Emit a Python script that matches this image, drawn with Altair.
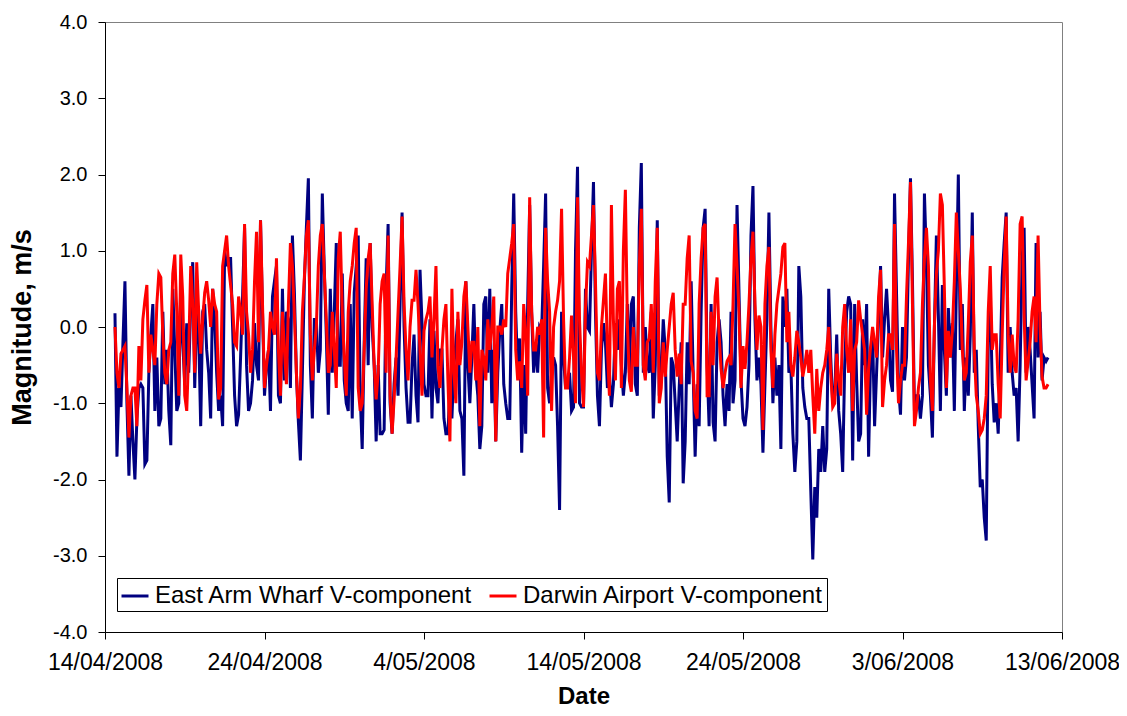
import altair as alt
import pandas as pd

# ---- data: 3-hourly samples (m/s) ----
east_arm = [
    0.18, -1.7, -0.8, -1.05, -0.2, 0.6, -1.0, -1.95, -0.9, -1.5,
    -2.0, -1.2, -0.8, -0.75, -0.8, -1.8, -1.75, -0.6, -0.1, 0.3,
    -1.1, -0.4, -1.3, -1.2, 0.2, -0.75, -0.3, -1.1, -1.55, 0.5,
    -0.3, -1.1, -1.0, 0.6, -0.2, -0.75, 0.05, -0.6, 0.3, 0.85,
    -0.8, 0.2, -0.1, -1.3, 0.2, 0.3, -0.3, -0.6,
    -1.2, 0.5, 0.1, -0.6, -1.1, -0.9, -1.3, 1.0, 0.8, 0.9,
    0.9, 0.0, -0.9, -1.3, -1.15, -0.4, 0.4, 1.3, -0.5, -1.1,
    -1.0, -0.7, 0.05, -0.5, -0.7, 1.4, 0.2, -0.9, -0.5, -0.3,
    -1.1, 0.4, 0.6, 0.8, -0.9, -1.0, 0.5, -0.7, 0.2, 0.1,
    -0.8, 1.2, 0.45, -0.6, -1.25, -1.75, -0.6, 0.6, 1.3, 1.95,
    -0.5, -1.2,
    0.1, 0.1, -0.6, -0.3, 1.75, 0.75, -0.1, -1.15, 0.5, -0.6,
    0.2, 1.1, -0.5, -0.5, 0.7, -0.7, -1.0, -1.1, 0.3, -1.2,
    0.45, 0.8, 1.2, -0.9, -1.6, -0.2, 0.9, -0.5, 1.1, 0.0,
    -0.5, -1.5, -0.5, -1.4, -1.4, -1.35, 0.5, 1.35, -1.0, -1.4,
    -0.75, -0.4, -0.9, 0.3, 1.5, 0.0, -0.8, -1.25, -1.25, -0.5,
    -0.1, -0.9, -1.25,
    0.75, 0.05, -0.75, -0.9, -0.9, 0.1, -1.2, -0.05, -0.8, -1.0,
    -0.3, -0.3, -1.2, -1.4, -1.4, -0.8, -1.2, -0.5, -0.2, 0.1,
    -1.1, -1.2, -1.95, 0.6, -0.5, -1.0, -0.4, 0.3, -0.6, -0.9,
    -1.6, -1.3, 0.3, 0.4, -0.6, 0.5, -1.0, -0.3, -1.5, -0.6,
    -0.05, 0.3, -0.75, -1.0, -1.2, -1.2, 0.5, 1.75, 0.2, -0.6,
    -0.15, -1.65,
    -0.5, -1.4, 0.3, 1.6, 0.2, -0.6, -0.2, -0.6, 0.0, -0.05,
    0.8, 1.75, -0.8, -1.0, -0.6, -0.4, -0.5, -1.3, -2.4, 0.2,
    -0.4, -0.8, -0.7, -0.6, -1.1, -1.05, 1.0, 2.1, -1.0, -1.05,
    -1.05, 0.5, 0.0, -0.05, 1.0, 1.9, 0.2, -0.9, -1.3, -0.3,
    0.05, -0.2, -0.8, -0.6, -1.05, -0.75, 0.05, -0.3, 0.1, -0.5,
    -0.9, -0.6,
    0.3, -0.6, 0.3, 0.4, -0.75, -0.9, 1.3, 2.15, -0.6, 0.0,
    -0.5, -0.6, 0.2, -1.2, -0.5, 1.4, -0.9, -0.6, 0.1, -0.3,
    -1.7, -2.3, -0.4, -0.5, -1.0, -1.5, -0.8, -0.2, -2.05, -1.5,
    -0.2, -0.75, 0.6, -0.6, -1.7, -0.75, -1.3, 0.2, 1.3, 1.55,
    -0.5, -1.3, 0.3, -1.25, -1.5, -0.2, 0.1, -0.2, -0.9, -1.3,
    -0.75, -1.1,
    0.2, -1.0, -0.7, 1.6, 0.45, -0.7, -1.2, -1.3, -1.05, -0.5,
    1.2, 1.85, 0.1, -0.7, -0.4, -0.75, -1.65, -0.75, 0.1, 1.5,
    0.0, -1.0, -0.4, -0.9, -0.5, -1.6, 0.4, 0.0, 0.5, -0.6,
    -0.5, -1.4, -1.9, -1.5, 0.8, 0.4, -0.8, -1.05, -1.2, -1.2,
    -2.15, -3.05, -2.1, -2.5, -1.6, -1.9, -1.3, -1.9, -1.6, 0.5,
    -0.4, -1.0, -0.9, -0.1,
    -1.1, -1.4, -1.9, -0.5, 0.2, 0.4, 0.3, -1.75, 0.3, -0.7,
    -1.5, -1.4, 0.1, -0.5, 0.3, -1.7, -0.4, -0.1, -1.3, -0.6,
    0.1, 0.8, -0.4, 0.1, 0.5, 0.0, -0.7, -0.85, 1.75, 0.45,
    -0.8, -1.15, 0.0, -0.7, -0.4, 0.9, 1.95, 0.6, -1.1, -0.9,
    -0.9, -1.2, -0.9, 1.75, 0.9, -0.5, -0.9, -1.45, 0.0, 1.2,
    0.15, -1.1,
    0.55, -0.3, -0.9, 0.25, -0.4, 0.05, -1.1, 0.5, 2.0, -0.3,
    0.3, -1.1, -0.4, -0.9, -0.1, 1.5, -0.6, -0.3, -1.3, -2.1,
    -2.0, -2.5, -2.8, -0.2, 0.45, -0.75, -1.25, -1.0, -1.4, -0.5,
    0.65, 1.1, 1.5, -0.6, 0.0, -0.6, -0.9, -0.8, -1.5, -0.5,
    0.9, 1.3, -0.6, 0.0, -0.3, -0.75, -1.2, 1.1, -0.4, 0.2,
    -0.7, -0.4, -0.45, -0.4,
]
darwin = [
    0.0, -0.6, -0.8, -0.35, -0.3, -0.25, -0.8, -1.45, -0.9, -0.8,
    -0.8, -1.3, -0.25, -0.7, 0.1, 0.35, 0.55, -0.6, -0.1, -0.3,
    -0.5, 0.3, 0.7, 0.65, -0.1, -0.6, -0.75, -0.3, -0.2, 0.7,
    0.95, 0.2, -0.9, 0.95, 0.4, -0.9, -1.1, -0.3, 0.8, 0.3,
    -0.6, 0.85, 0.2, -0.35, 0.1, 0.45, 0.6, 0.35,
    0.0, 0.5, 0.3, 0.2, -0.95, -0.8, 0.8, 1.0, 1.2, 0.8,
    0.55, 0.3, -0.2, -0.25, 0.4, 0.2, -0.1, 1.35, 0.2, -0.1,
    -0.6, -0.3, 0.6, 1.25, -0.2, 1.4, 0.3, -0.8, -0.5, -0.3,
    0.2, 0.0, -0.1, 0.9, -0.3, -0.9, 0.2, -0.3, -0.75, 0.3,
    1.1, 0.8, 0.15, -0.6, -1.2, -0.8, 0.2, 0.65, 1.2, 1.4,
    -0.1, -0.7,
    -0.3, 0.0, 0.8, 1.2, 1.35, 0.7, 0.1, -0.6, -0.5, 0.2,
    -0.3, -0.8, 0.9, 1.25, 0.2, -0.4, -0.9, 0.2, 0.6, 0.8,
    1.1, 1.3, -0.8, -1.1, -1.0, -0.3, 0.5, 0.9, 1.1, 0.3,
    -0.5, -0.95, -0.6, 0.3, 0.6, 0.7, -0.6, 1.2, -0.9, -1.4,
    -0.95, -0.4, 0.2, 0.8, 1.45, 0.3, -0.3, -0.7, 0.0, 0.35,
    0.35, 0.75, 0.3,
    -0.3, -0.9, -0.05, 0.1, 0.2, 0.4, -0.4, 0.1, 0.8, -0.5,
    -0.8, -0.3, 0.1, 0.3, -0.7, -1.5, 0.5, -0.6, -1.0, 0.2,
    -0.5, -0.2, 0.4, 0.6, 0.0, -0.6, -0.2, -0.2, -0.7, 0.0,
    -1.3, -0.3, -0.4, -0.7, 0.1, -0.3, 0.0, 0.4, -1.5, 0.0,
    0.0, -0.1, 0.1, 0.0, 0.7, 0.9, 1.1, 1.35, -0.3, -0.7,
    -0.45, -0.8,
    0.3, -0.1, -0.9, 1.7, 0.2, -0.3, -0.3, 0.0, -0.1, 0.1,
    -1.45, 1.3, 0.6, 0.2, -1.1, 0.0, 0.2, 0.35, 0.6, 1.55,
    0.1, -0.8, -0.8, -0.4, 0.15, -0.4, -1.0, 1.7, 0.1, -0.6,
    -1.05, 0.25, 0.85, 0.8, 1.2, 1.6, 0.6, -0.6, -0.7, 0.0,
    0.35, 0.7, -0.3, -0.9, 1.6, 0.1, -0.7, 0.5, 0.6, -0.8,
    1.0, 1.8,
    0.05, -0.7, -0.85, 0.0, -0.5, -0.5, 0.8, 1.55, -0.5, -0.7,
    -0.2, -0.15, 0.3, -0.6, 0.6, 1.3, -1.0, -0.8, -0.2, -0.65,
    -0.3, 0.0, 0.3, 0.45, -0.3, -0.65, -0.35, -0.75, 0.3, 0.3,
    0.9, 1.2, -0.45, -0.6, -1.1, -1.2, 0.3, 0.9, 1.3, 1.35,
    -0.9, -0.9, 0.2, -0.5, 0.4, 0.65, -0.1, -0.55, -0.8, -0.6,
    -0.45, -0.4,
    -0.5, 0.3, 1.35, 0.8, 0.2, -0.8, -0.25, -0.55, -0.2, 0.3,
    0.9, 1.25, 0.3, -0.3, 0.15, 0.0, -1.35, 0.3, 0.8, 1.05,
    -0.3, -0.8, -0.1, 0.3, 0.5, 0.7, 1.05, 1.1, -0.2, 0.2,
    -0.5, -0.65, -0.4, -0.05, -0.2, -0.4, -0.65, -0.5, -0.3, -0.6,
    -0.3, -0.9, -1.4, -0.55, -1.1, -0.8, -0.6, -0.5, -0.3, 0.0,
    -0.6, -1.05, -1.0, -0.35,
    -0.7, -0.9, 0.0, 0.3, -0.3, -0.6, 0.1, -1.1, -0.3, -0.2,
    0.35, 0.1, -0.1, -0.3, -1.15, -0.55, -0.25, 0.0, -0.2, -0.4,
    0.4, 0.75, -1.05, -0.7, -0.5, -0.1, -0.1, -0.3, 1.35, -0.3,
    -1.0, -0.7, -0.5, -0.5, 0.4, 1.1, 1.9, 0.3, -1.3, -1.1,
    -0.8, -0.6, 0.3, 0.9, 1.3, 0.8, -0.7, -1.1, 0.0, 0.7,
    1.0, 1.75,
    1.6, 0.5, -0.8, -0.05, -0.4, -0.05, 0.6, 1.5, 1.0, 0.5,
    -0.3, -0.7, -0.6, 0.05, 0.85, 1.2, -0.3, -0.9, -1.1, -1.4,
    -1.35, -1.2, -0.9, 0.2, 0.8, -0.3, -0.1, -0.1, -0.75, -1.2,
    -0.1, 0.8, 1.45, -0.1, -0.6, -0.1, -0.5, -0.6, 0.1, 1.35,
    1.45, 0.15, -0.7, -0.45, -0.2, 0.2, 0.4, -0.2, 1.2, 0.0,
    -0.65, -0.8, -0.8, -0.75,
]
series_names = ["East Arm Wharf V-component", "Darwin Airport V-component"]
series_colors = ["#000080", "#FF0000"]
start_time = "2008-04-14 15:00:00"
step = "3h"

x_ticks = ["2008-04-14", "2008-04-24", "2008-05-04", "2008-05-14", "2008-05-24", "2008-06-03", "2008-06-13"]
y_ticks = [-4, -3, -2, -1, 0, 1, 2, 3, 4]

n = len(east_arm)
times = pd.date_range(start_time, periods=n, freq=step)
tstr = [t.strftime("%Y-%m-%dT%H:%M:%SZ") for t in times]

df_blue = pd.DataFrame({"time": tstr, "value": east_arm, "series": series_names[0]})
df_red = pd.DataFrame({"time": tstr, "value": darwin[:n], "series": series_names[1]})


def dt(s):
    y, m, d = (int(p) for p in s.split("-"))
    return alt.DateTime(year=y, month=m, date=d, utc=True)


x_enc = alt.X(
    "time:T",
    title="Date",
    scale=alt.Scale(type="utc", domain=[dt(x_ticks[0]), dt(x_ticks[-1])]),
    axis=alt.Axis(values=[dt(s) for s in x_ticks],
                  labelExpr="utcFormat(datum.value, '%-d/%m/%Y')",
                  labelFlush=False, labelOverlap=False, grid=False,
                  labelFontSize=23, labelPadding=12, titlePadding=10, titleFontSize=24),
)
y_enc = alt.Y(
    "value:Q",
    title="Magnitude, m/s",
    scale=alt.Scale(domain=[-4, 4], nice=False, zero=False),
    axis=alt.Axis(values=y_ticks,
                  labelExpr="(datum.value < 0 ? '-' : '') + format(abs(datum.value), '.1f')",
                  grid=False, labelFontSize=20, labelPadding=11, titlePadding=16, titleFontSize=27),
)
color_enc = alt.Color(
    "series:N",
    scale=alt.Scale(domain=series_names, range=series_colors),
    legend=alt.Legend(title=None, orient="none", legendX=12, legendY=556, direction="horizontal",
                      strokeColor="black", fillColor="white", padding=3,
                      symbolType="stroke", symbolStrokeWidth=3, symbolSize=729,
                      labelFontSize=24, labelLimit=0, columnPadding=10, labelOffset=5),
)

blue = alt.Chart(df_blue).mark_line(strokeWidth=3).encode(x=x_enc, y=y_enc, color=color_enc)
red = alt.Chart(df_red).mark_line(strokeWidth=3).encode(x=x_enc, y=y_enc, color=color_enc)

chart = (
    alt.layer(blue, red)
    .properties(width=957, height=610, autosize=alt.AutoSizeParams(type="none"),
                padding={"left": 97, "top": 14, "right": 57, "bottom": 76})
    .configure(font="Liberation Sans")
    .configure_view(stroke="#808080", strokeWidth=1)
    .configure_axis(labelFont="Liberation Sans", labelColor="black",
                    titleFont="Liberation Sans", titleFontWeight="bold", titleColor="black",
                    domainColor="black", tickColor="black", tickSize=7, domainWidth=1)
    .configure_legend(labelFont="Liberation Sans", labelColor="black")
)

chart.save("out.html", embed_options={"renderer": "svg", "actions": False})
